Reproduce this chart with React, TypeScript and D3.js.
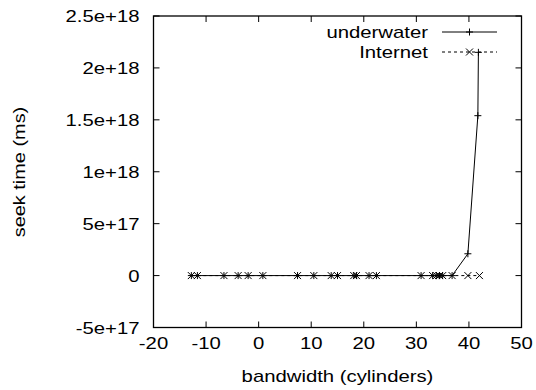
import * as d3 from "d3";

// values
const underwaterX = [-12.8, -11.65, -6.6, -3.9, -2.0, 0.8, 7.4, 10.5, 13.8, 15.0, 18.1, 18.6, 21.0, 22.4, 30.9, 33.1, 33.8, 34.4, 35.0, 36.8, 39.8, 41.7, 41.8];
const underwaterY = [0, 0, 0, 0, 0, 0, 0, 0, 0, 0, 0, 0, 0, 0, 0, 0, 0, 0, 0, 0, 2.1e17, 1.54e18, 2.15e18];
const internetX = [-12.8, -11.65, -6.6, -3.9, -2.0, 0.8, 7.4, 10.5, 13.8, 15.0, 18.1, 18.6, 21.0, 22.4, 30.9, 33.1, 33.8, 34.4, 35.0, 36.8, 39.8, 42.0];
const internetY = internetX.map(() => 0);

const xTicks = [-20, -10, 0, 10, 20, 30, 40, 50];
const yTicks = [-5e17, 0, 5e17, 1e18, 1.5e18, 2e18, 2.5e18];
const yTickLabels = ["-5e+17", "0", "5e+17", "1e+18", "1.5e+18", "2e+18", "2.5e+18"];

const width = 536;
const height = 390;
const margin = { top: 16, right: 14.5, bottom: 62.5, left: 153.5 };
const font = "'Liberation Sans', Arial, Helvetica, sans-serif";
const stretch = 1.27;

function Label({ x, y, anchor, rotate = 0, children }: { x: number; y: number; anchor: string; rotate?: number; children: string }) {
  return (
    <text
      transform={`translate(${x},${y}) rotate(${rotate}) scale(${stretch},1)`}
      textAnchor={anchor}
      fontFamily={font}
      fontSize={16}
      fill="#000"
    >
      {children}
    </text>
  );
}

export default function App() {
  const x = d3.scaleLinear().domain([-20, 50]).range([margin.left, width - margin.right]);
  const y = d3.scaleLinear().domain([-5e17, 2.5e18]).range([height - margin.bottom, margin.top]);

  const under = underwaterX.map((v, i) => [v, underwaterY[i]] as [number, number]);
  const inet = internetX.map((v, i) => [v, internetY[i]] as [number, number]);
  const line = d3.line<[number, number]>().x((d) => x(d[0])).y((d) => y(d[1]));

  const x0 = margin.left;
  const x1 = width - margin.right;
  const y0 = height - margin.bottom;
  const y1 = margin.top;
  const tl = 6;
  const m = 3.5;

  const plus = (cx: number, cy: number, k: string) => (
    <path key={k} d={`M${cx - m},${cy}H${cx + m}M${cx},${cy - m}V${cy + m}`} stroke="#000" strokeWidth={1} />
  );
  const cross = (cx: number, cy: number, k: string) => (
    <path key={k} d={`M${cx - m},${cy - m}L${cx + m},${cy + m}M${cx - m},${cy + m}L${cx + m},${cy - m}`} stroke="#000" strokeWidth={1} />
  );

  const legendX0 = 442;
  const legendX1 = 497;
  const legendMid = (legendX0 + legendX1) / 2;

  return (
    <div style={{ position: "absolute", left: 0, top: 0 }}>
      <svg width={width} height={height} style={{ display: "block", background: "#fff" }}>
        {/* ticks, mirrored on all sides */}
        {xTicks.map((t) => (
          <g key={"xt" + t}>
            <line x1={x(t)} x2={x(t)} y1={y0} y2={y0 - tl} stroke="#000" />
            <line x1={x(t)} x2={x(t)} y1={y1} y2={y1 + tl} stroke="#000" />
            <Label x={x(t)} y={349} anchor="middle">{String(t)}</Label>
          </g>
        ))}
        {yTicks.map((t, i) => (
          <g key={"yt" + t}>
            <line x1={x0} x2={x0 + tl} y1={y(t)} y2={y(t)} stroke="#000" />
            <line x1={x1} x2={x1 - tl} y1={y(t)} y2={y(t)} stroke="#000" />
            <Label x={139.5} y={y(t) + 6} anchor="end">{yTickLabels[i]}</Label>
          </g>
        ))}
        <rect x={x0} y={y1} width={x1 - x0} height={y0 - y1} fill="none" stroke="#000" strokeWidth={1.3} />

        <Label x={(x0 + x1) / 2} y={382} anchor="middle">bandwidth (cylinders)</Label>
        <g transform="translate(25,172) rotate(-90)">
          <text transform={`scale(${stretch * 0.98},1)`} textAnchor="middle" fontFamily={font} fontSize={16} fill="#000">seek time (ms)</text>
        </g>

        {/* series */}
        <path d={line(inet) || ""} fill="none" stroke="#000" strokeWidth={1} strokeDasharray="3,3" />
        {inet.map((d, i) => cross(x(d[0]), y(d[1]), "ic" + i))}
        <path d={line(under) || ""} fill="none" stroke="#000" strokeWidth={1} />
        {under.map((d, i) => plus(x(d[0]), y(d[1]), "up" + i))}

        {/* legend */}
        <Label x={428} y={38} anchor="end">underwater</Label>
        <line x1={legendX0} x2={legendX1} y1={32} y2={32} stroke="#000" />
        {plus(legendMid, 32, "lp")}
        <Label x={428} y={58} anchor="end">Internet</Label>
        <line x1={legendX0} x2={legendX1} y1={52} y2={52} stroke="#000" strokeDasharray="3,3" />
        {cross(legendMid, 52, "lc")}
      </svg>
    </div>
  );
}
